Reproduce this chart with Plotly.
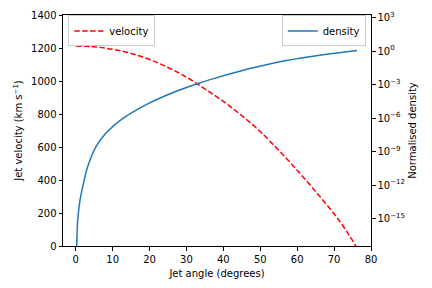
import plotly.graph_objects as go

# velocity (km/s)
vel_angle = [0, 5, 10, 15, 20, 25, 30, 35, 40, 45, 50, 55, 60, 65, 70, 72, 74, 75.9]
velocity = [1212, 1207, 1192, 1167, 1130, 1082, 1023, 952, 876, 790, 693, 580, 459, 330,
            195, 135, 68, 0]

# normalised density (log axis)
den_angle = [0.22, 0.27, 0.54, 1.17, 1.9, 3.25, 5.5, 8.2, 12.7, 19.1, 25.4, 33.1, 37.1,
             44.4, 48.1, 57.1, 66.1, 76.2]
den_log = [-18.5, -17.37, -15.12, -13.32, -12.13, -10.33, -8.54, -7.33, -6.05, -4.79, -3.83,
           -2.90, -2.48, -1.80, -1.49, -0.84, -0.36, 0.06]
density = [10 ** v for v in den_log]

dens_ticks = [1e3, 1e0, 1e-3, 1e-6, 1e-9, 1e-12, 1e-15]
dens_text = ["10<sup>3</sup>", "10<sup>0</sup>", "10<sup>−3</sup>", "10<sup>−6</sup>",
             "10<sup>−9</sup>", "10<sup>−12</sup>", "10<sup>−15</sup>"]

font = dict(family="DejaVu Sans", size=10, color="black")

fig = go.Figure()
fig.add_trace(go.Scatter(
    x=vel_angle, y=velocity, name="velocity", mode="lines",
    line=dict(color="red", width=1.5, dash="5.5px,2.4px", shape="spline"),
    legend="legend", showlegend=True,
))
fig.add_trace(go.Scatter(
    x=den_angle, y=density, name="density", mode="lines", yaxis="y2",
    line=dict(color="#1f77b4", width=1.5, shape="spline"),
    legend="legend2", showlegend=True,
))

axis_common = dict(showline=True, linecolor="black", linewidth=1, ticks="outside",
                   ticklen=3.5, tickcolor="black", showgrid=False, zeroline=False,
                   tickfont=font, automargin=False)

# page body adds an 8px offset, so the figure is a bit smaller than the window
fig.update_layout(
    width=424, height=280,
    margin=dict(l=55, r=61, t=7, b=42),
    paper_bgcolor="white", plot_bgcolor="white",
    font=font, showlegend=True,
    xaxis=dict(range=[-3.45, 80], tickvals=list(range(0, 81, 10)), mirror=True,
               title=dict(text="Jet angle (degrees)", font=font, standoff=6), **axis_common),
    yaxis=dict(range=[0, 1400], tickvals=list(range(0, 1401, 200)),
               title=dict(text="Jet velocity (km s<sup>−1</sup>)", font=font, standoff=6),
               **axis_common),
    yaxis2=dict(type="log", range=[-17.45, 3.24], overlaying="y", side="right",
                tickvals=dens_ticks, ticktext=dens_text,
                title=dict(text="Normalised density", font=font, standoff=4),
                **axis_common),
    legend=dict(x=0.017, y=0.998, xanchor="left", yanchor="top",
                bgcolor="rgba(255,255,255,0.8)", bordercolor="#cccccc", borderwidth=1,
                font=font, itemwidth=30),
    legend2=dict(x=0.983, y=0.998, xanchor="right", yanchor="top",
                 bgcolor="rgba(255,255,255,0.8)", bordercolor="#cccccc", borderwidth=1,
                 font=font, itemwidth=30),
)

fig.write_html("out.html")
